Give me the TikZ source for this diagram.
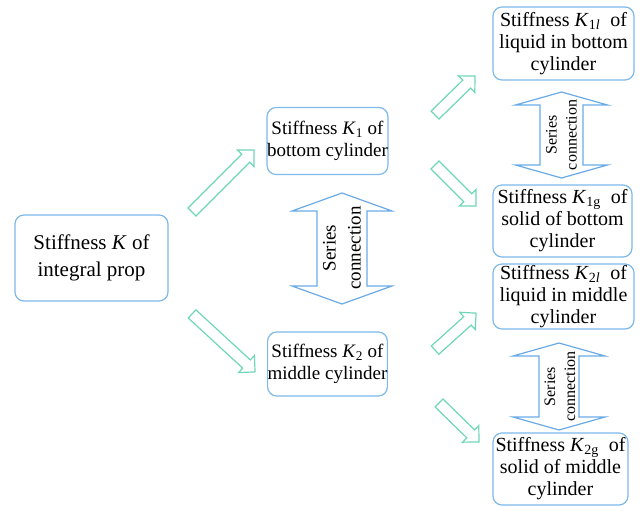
\documentclass[tikz,border=0pt]{standalone}
\usepackage{fontspec}
\setmainfont{Liberation Serif}
\usetikzlibrary{calc,shapes.arrows}
\definecolor{boxblue}{RGB}{125,185,235}
\definecolor{arrblue}{RGB}{105,170,230}
\definecolor{mint}{RGB}{110,215,185}
\tikzset{
  box/.style={draw=boxblue, line width=1.2pt, rounded corners=9pt, align=center, inner sep=0pt},
  bigfont/.style={font=\fontsize{21}{27}\selectfont},
  midfont/.style={font=\fontsize{19}{22}\selectfont},
  smallfont/.style={font=\fontsize{20}{22}\selectfont},
  greenarrow/.style={single arrow, draw=mint, line width=1.2pt, fill=white, inner sep=5pt,
    minimum width=0pt, single arrow head extend=6pt, single arrow tip angle=90},
  dblarrow/.style={draw=arrblue, line width=1.2pt, line join=miter},
  serieslabel/.style={rotate=90, align=center, inner sep=0pt},
}
\newcommand\garrow[2]{\path let \p1=($(#2)-(#1)$), \n1={atan2(\y1,\x1)}, \n2={veclen(\x1,\y1)} in
  node[greenarrow, rotate=\n1, minimum height=\n2] at ($(#1)!0.5!(#2)$) {};}
% #1 top tip, #2 bottom tip, #3 shaft half width, #4 head half width, #5 head length
\newcommand\vdarrow[5]{\draw[dblarrow] (#1) -- ++(#4,#5) -- ++(#3-#4,0) -- ($(#2)+(#3,-#5)$)
  -- ++(#4-#3,0) -- (#2) -- ++(-#4,-#5) -- ++(#4-#3,0) -- ($(#1)+(-#3,#5)$) -- ++(#3-#4,0) -- cycle;}
\begin{document}
\begin{tikzpicture}[x=1pt,y=-1pt]
\useasboundingbox (0,0) rectangle (643,506);
% boxes
\node[box, bigfont, minimum width=153pt, minimum height=86pt] (K) at (91.5,258)
  {Stiffness \textit{K} of\\integral prop};
\node[box, midfont, minimum width=116pt, minimum height=67pt] (K1) at (327.5,141)
  {Stiffness \textit{K}\textsubscript{1} of\\bottom cylinder};
\node[box, midfont, minimum width=116pt, minimum height=64pt] (K2) at (327.5,364)
  {Stiffness \textit{K}\textsubscript{2} of\\middle cylinder};
\node[box, smallfont, minimum width=141pt, minimum height=73pt] (K1l) at (563.5,43.5)
  {Stiffness \textit{K}\textsubscript{1\textit{l}}\ \ of\\liquid in bottom\\cylinder};
\node[box, smallfont, minimum width=139pt, minimum height=72pt] (K1g) at (562.5,221)
  {Stiffness \textit{K}\textsubscript{1g}\ \ of\\solid of bottom\\cylinder};
\node[box, smallfont, minimum width=141pt, minimum height=65pt] (K2l) at (563.5,296.5)
  {Stiffness \textit{K}\textsubscript{2\textit{l}}\ \ of\\liquid in middle\\cylinder};
\node[box, smallfont, minimum width=135pt, minimum height=72pt] (K2g) at (560.5,469)
  {Stiffness \textit{K}\textsubscript{2g}\ \ of\\solid of middle\\cylinder};
% green block arrows
\coordinate (a1s) at (190,214); \coordinate (a1e) at (252,152);
\coordinate (a2s) at (190,312); \coordinate (a2e) at (253,370);
\coordinate (a3s) at (433,117); \coordinate (a3e) at (473,78);
\coordinate (a4s) at (433,163); \coordinate (a4e) at (474,204);
\coordinate (a5s) at (433,352); \coordinate (a5e) at (474,315);
\coordinate (a6s) at (437,401); \coordinate (a6e) at (477,440);
\garrow{a1s}{a1e}
\garrow{a2s}{a2e}
\garrow{a3s}{a3e}
\garrow{a4s}{a4e}
\garrow{a5s}{a5e}
\garrow{a6s}{a6e}
% double arrows (series connection)
\coordinate (m1t) at (342,193); \coordinate (m1b) at (342,304);
\vdarrow{m1t}{m1b}{25}{50}{18}
\node[serieslabel, font=\fontsize{19}{25}\selectfont] (s1) at (342,248) {Series\\connection};
\coordinate (r1t) at (561.5,92); \coordinate (r1b) at (561.5,178);
\vdarrow{r1t}{r1b}{21.5}{46}{13}
\node[serieslabel, font=\fontsize{16}{20}\selectfont] (s2) at (561.5,135) {Series\\connection};
\coordinate (r2t) at (559,343); \coordinate (r2b) at (559,430);
\vdarrow{r2t}{r2b}{20}{46}{13}
\node[serieslabel, font=\fontsize{16}{20}\selectfont] (s3) at (560,386.5) {Series\\connection};
\end{tikzpicture}
\end{document}
